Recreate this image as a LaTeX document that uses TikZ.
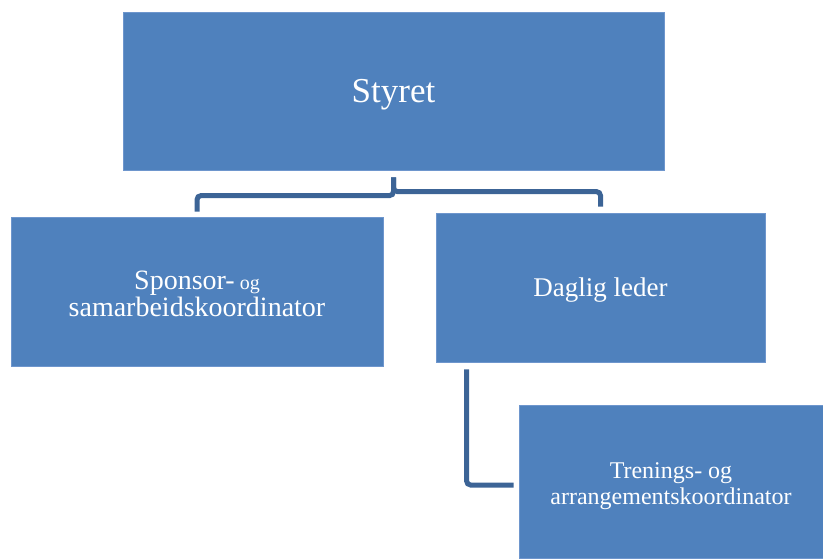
\documentclass[tikz,border=0pt]{standalone}
\usepackage{fontspec}
\setmainfont{Liberation Serif}
\definecolor{boxfill}{RGB}{79,129,189}
\definecolor{boxedge}{RGB}{110,150,205}
\definecolor{connc}{RGB}{60,100,150}
\tikzset{
  orgbox/.style={rectangle, fill=boxfill, draw=boxedge, line width=0.8pt, inner sep=0pt},
  orgtext/.style={text=white, align=center, inner sep=0pt},
  conn/.style={draw=connc, line width=5pt, rounded corners=4pt}
}
\begin{document}
\begin{tikzpicture}[x=1pt,y=-1pt]
\useasboundingbox (0,0) rectangle (823,558);
\node[orgbox, minimum width=541pt, minimum height=158pt] (styret) at (393.5,91) {};
\node[orgbox, minimum width=372pt, minimum height=149pt] (sponsor) at (197,291.5) {};
\node[orgbox, minimum width=329pt, minimum height=149pt] (daglig) at (600.5,287.5) {};
\node[orgbox, minimum width=304pt, minimum height=153pt] (trenings) at (671,481.5) {};
\node[orgtext, font=\fontsize{35}{40}\selectfont] (styretT) at ([yshift=-4pt]styret.center) {Styret};
\node[orgtext, font=\fontsize{28}{27}\selectfont] (sponsorT) at ([yshift=-2pt]sponsor.center) {Sponsor-{\fontsize{20}{27}\selectfont\ og}\\samarbeidskoordinator};
\node[orgtext, font=\fontsize{27}{30}\selectfont] (dagligT) at ([yshift=-3pt]daglig.center) {Daglig leder};
\node[orgtext, font=\fontsize{24}{26}\selectfont] (treningsT) at ([yshift=-5pt]trenings.center) {Trenings- og\\arrangementskoordinator};
\draw[conn] ([yshift=-7pt]styret.south) |- ([yshift=21pt]sponsor.north) -- ([yshift=5pt]sponsor.north);
\draw[conn] ([yshift=-7pt]styret.south) |- ([yshift=21pt]daglig.north) -- ([yshift=6pt]daglig.north);
\draw[conn] ([xshift=31pt,yshift=-7pt]daglig.south west) |- ([xshift=-5pt,yshift=-3.5pt]trenings.west);
\end{tikzpicture}
\end{document}
